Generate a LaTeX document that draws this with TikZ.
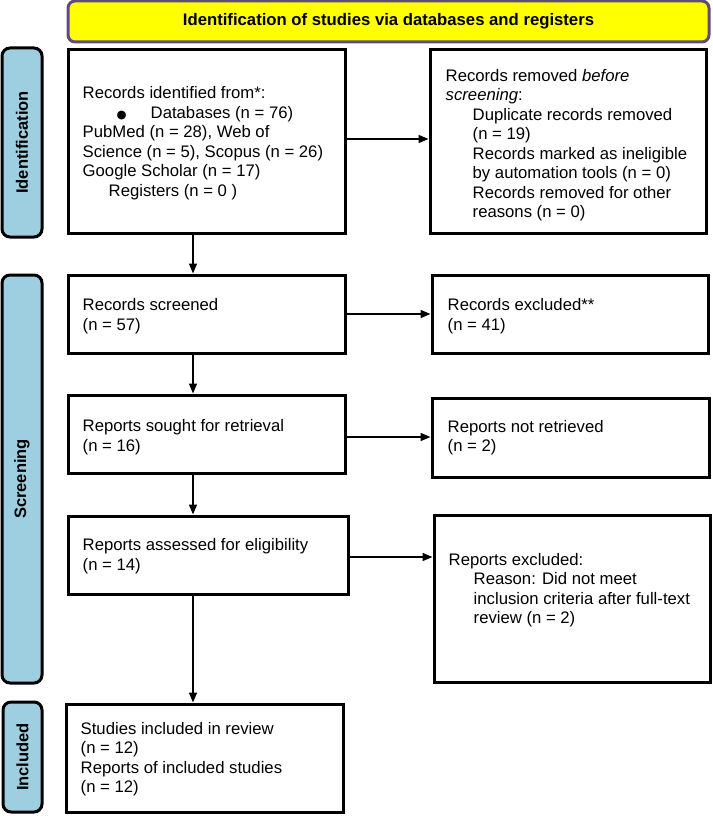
\documentclass[tikz,border=0pt]{standalone}
\usepackage{fontspec}
\setmainfont{Liberation Sans}
\newfontfamily\dejavu{DejaVu Sans}
\usetikzlibrary{arrows.meta}
\definecolor{sidefill}{RGB}{157,207,224}
\definecolor{titleborder}{RGB}{96,76,122}
\definecolor{titlefill}{RGB}{255,255,0}
\newcommand{\bigbul}{{\dejavu\fontsize{11.5}{19.5}\selectfont ●}}
\begin{document}
\begin{tikzpicture}[x=1pt,y=-1pt,
  box/.style={draw=black,line width=3pt,fill=white,inner sep=0pt},
  txt/.style={font=\fontsize{16.7}{19.5}\selectfont,align=left,inner sep=0pt,anchor=west},
  side/.style={draw=black,line width=3pt,fill=sidefill,rounded corners=8pt,rotate=90,
    font=\fontsize{16.5}{19.5}\selectfont\bfseries,inner sep=0pt},
  titlebox/.style={draw=titleborder,line width=3pt,fill=titlefill,rounded corners=7pt,
    font=\fontsize{16.7}{19.5}\selectfont\bfseries,inner sep=0pt},
  arr/.style={line width=1.5pt,-{Triangle[length=10pt,width=8pt]}}]
\useasboundingbox (0,0) rectangle (712,816);

% title
\node[titlebox,minimum width=641pt,minimum height=41pt] (title) at (388.5,21.5)
  {Identification of studies via databases and registers};

% side bars
\node[side,minimum width=189pt,minimum height=40pt] (sid) at (22,142.5) {Identification};
\node[side,minimum width=408pt,minimum height=40pt] (sscr) at (22,479) {Screening};
\node[side,minimum width=110pt,minimum height=39pt] (sinc) at (22.5,757) {Included};

% boxes
\node[box,minimum width=277pt,minimum height=183pt] (b1) at (206.5,141.5) {};
\node[box,minimum width=276pt,minimum height=183pt] (b2) at (568,141.5) {};
\node[box,minimum width=277pt,minimum height=78pt] (scr) at (206.5,314) {};
\node[box,minimum width=276pt,minimum height=78pt] (exc) at (570,314) {};
\node[box,minimum width=277pt,minimum height=78pt] (sought) at (206.5,434) {};
\node[box,minimum width=277pt,minimum height=79pt] (notret) at (570.5,437.5) {};
\node[box,minimum width=280pt,minimum height=78pt] (assessed) at (208,555) {};
\node[box,minimum width=276pt,minimum height=167pt] (repexc) at (572,598.5) {};
\node[box,minimum width=277pt,minimum height=108pt] (incl) at (204.5,758) {};

% texts
\node[txt] (t1) at ([xshift=16pt,yshift=-1.5pt]b1.west) {Records identified from*:\\
\hspace*{34pt}\makebox[34pt][l]{\bigbul}Databases (n = 76)\\
PubMed (n = 28), Web of\\
Science (n = 5), Scopus (n = 26)\\
Google Scholar (n = 17)\\
\hspace*{26pt}Registers (n = 0 )};
\node[txt] (t2) at ([xshift=17pt,yshift=-3.5pt]b2.west) {Records removed \textit{before}\\
\textit{screening}:\\
\hspace*{27pt}Duplicate records removed\\
\hspace*{27pt}(n = 19)\\
\hspace*{27pt}Records marked as ineligible\\
\hspace*{27pt}by automation tools (n = 0)\\
\hspace*{27pt}Records removed for other\\
\hspace*{27pt}reasons (n = 0)};
\node[txt] (t3) at ([xshift=16pt,yshift=-2pt]scr.west) {Records screened\\(n = 57)};
\node[txt] (t4) at ([xshift=17pt,yshift=-2pt]exc.west) {Records excluded**\\(n = 41)};
\node[txt] (t5) at ([xshift=16pt,yshift=-3pt]sought.west) {Reports sought for retrieval\\(n = 16)};
\node[txt] (t6) at ([xshift=17pt]notret.west) {Reports not retrieved\\(n = 2)};
\node[txt] (t7) at ([xshift=16pt,yshift=-1pt]assessed.west) {Reports assessed for eligibility\\(n = 14)};
\node[txt] (t8) at ([xshift=16pt,yshift=8.5pt]repexc.west) {Reports excluded:\\
\hspace*{25pt}Reason: Did not meet\\
\hspace*{25pt}inclusion criteria after full-text\\
\hspace*{25pt}review (n = 2)};
\node[txt] (t9) at ([xshift=16pt,yshift=-1pt]incl.west) {Studies included in review\\
(n = 12)\\
Reports of included studies\\
(n = 12)};

% connectors
\coordinate (ax) at (193,0);
\draw[arr] (b1.south -| ax) -- (scr.north -| ax);
\draw[arr] (scr.south -| ax) -- (sought.north -| ax);
\draw[arr] (sought.south -| ax) -- (assessed.north -| ax);
\draw[arr] (assessed.south -| ax) -- (incl.north -| ax);
\draw[arr] ([yshift=2.5pt]b1.east) -- ([yshift=2.5pt]b1.east -| b2.west);
\draw[arr] (scr.east) -- (scr.east -| exc.west);
\draw[arr] ([yshift=-3pt]sought.east) -- ([yshift=-3pt]sought.east -| notret.west);
\draw[arr] ([yshift=-2pt]assessed.east) -- ([yshift=-2pt]assessed.east -| repexc.west);
\end{tikzpicture}
\end{document}
